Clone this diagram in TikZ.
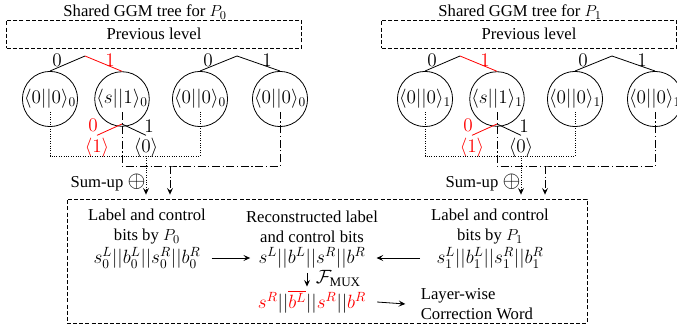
\documentclass[tikz,border=0pt]{standalone}
\usepackage{fontspec}
\setmainfont{Liberation Serif}
\usetikzlibrary{arrows.meta}
\begin{document}
\begin{tikzpicture}[x=0.75pt,y=-0.75pt,
  font=\fontsize{12.5}{15}\selectfont, line width=0.6pt,
  mfont/.style={font=\fontsize{14}{16}\selectfont},
  circ/.style={draw, circle, minimum size=37.5pt, inner sep=0pt, mfont},
  dbox/.style={draw, dash pattern=on 3pt off 1.6pt},
  dotl/.style={dash pattern=on 0.7pt off 1.1pt},
  ddl/.style={dash pattern=on 6pt off 2pt on 0.8pt off 2pt},
  arr/.style={-{Stealth[length=5pt,width=4.5pt,inset=2pt]}},
  lbl/.style={inner sep=1pt, mfont}]
\useasboundingbox (0,0) rectangle (677,328);
% bottom box
\node[dbox, minimum width=390pt, minimum height=93pt] (bbox) at (327,261) {};
\foreach \p/\dx in {0/0,1/375}{
  \node (title\p) at (\dx+145,12) {Shared GGM tree for $P_\p$};
  \node[dbox, minimum width=221.25pt, minimum height=21pt] (prev\p) at (\dx+154,34) {Previous level};
  \coordinate (apL\p) at (\dx+85,56);
  \coordinate (apR\p) at (\dx+237,56);
  \node[circ] (ca\p) at (\dx+50,99) {$\langle 0||0\rangle_\p$};
  \node[circ] (cb\p) at (\dx+122,99) {$\langle s||1\rangle_\p$};
  \node[circ] (cc\p) at (\dx+200,99) {$\langle 0||0\rangle_\p$};
  \node[circ] (cd\p) at (\dx+280,99) {$\langle 0||0\rangle_\p$};
  \draw (apL\p) -- (ca\p.north);
  \draw[red] (apL\p) -- (cb\p.north);
  \draw (apR\p) -- (cc\p.north);
  \draw (apR\p) -- (cd\p.north);
  \node[lbl] (ea\p) at (\dx+57,60) {$0$};
  \node[lbl,red] (eb\p) at (\dx+110,60) {$1$};
  \node[lbl] (ec\p) at (\dx+208,60) {$0$};
  \node[lbl] (ed\p) at (\dx+267,60) {$1$};
  % sub tree
  \coordinate (sa\p) at (\dx+122,124);
  \node[inner sep=0pt, red, mfont] (la\p) at (\dx+97,148) {$\langle 1\rangle$};
  \node[inner sep=0pt, mfont] (lb\p) at (\dx+146,148) {$\langle 0\rangle$};
  \draw[red] (sa\p) -- ([yshift=2pt]la\p.north);
  \draw (sa\p) -- ([yshift=2pt]lb\p.north);
  \node[lbl,red] (sea\p) at (\dx+93,125) {$0$};
  \node[lbl] (seb\p) at (\dx+149,126) {$1$};
  % dotted sum
  \coordinate (dotY\p) at (\dx+146,156);
  \draw[dotl] ([yshift=-9.75pt]ca\p.center) |- (dotY\p) -| ([yshift=-9.75pt]cc\p.center);
  \draw[dotl, arr] (lb\p.south) -- ([yshift=3pt]lb\p.south |- bbox.north);
  % dash-dot sum
  \coordinate (ddY\p) at (\dx+170,166);
  \draw[ddl] ([yshift=-9.75pt]cb\p.center) |- (ddY\p) -| ([yshift=-9.75pt]cd\p.center);
  \draw[ddl, arr] (ddY\p) -- ([yshift=3pt]ddY\p |- bbox.north);
  \node (sum\p) at (\dx+108,183) {Sum-up {\fontsize{17}{17}\selectfont$\oplus$}};
}
% bottom contents
\node[align=center] (lbl0) at (147,227) {Label and control\\bits by $P_0$};
\node[mfont, inner sep=2pt] (s0) at (147,258) {$s_0^L||b_0^L||s_0^R||b_0^R$};
\node[align=center] (lblr) at (312,227) {Reconstructed label\\and control bits};
\node[mfont, inner sep=2pt] (sr) at (312,258) {$s^L||b^L||s^R||b^R$};
\node[align=center] (lbl1) at (490,227) {Label and control\\bits by $P_1$};
\node[mfont, inner sep=2pt] (s1) at (490,258) {$s_1^L||b_1^L||s_1^R||b_1^R$};
\node[mfont, inner sep=2pt] (sm) at (312,302) {$\textcolor{red}{s^R}||\textcolor{red}{\overline{b^L}}||\textcolor{red}{s^R}||\textcolor{red}{b^R}$};
\node[align=left, anchor=west] (lw) at (416,304) {Layer-wise\\Correction Word};
\draw[arr] ([xshift=6pt]s0.east) -- ([xshift=-4pt]sr.west);
\draw[arr] ([xshift=-10pt]s1.west) -- ([xshift=6pt]sr.east);
\draw[arr] ([xshift=-3.75pt,yshift=-1pt]sr.south) -- ([xshift=-3.75pt,yshift=1pt]sm.north)
  node[midway, right, xshift=3pt, yshift=1pt, mfont] {$\mathcal{F}_{\mathrm{MUX}}$};
\draw[arr] ([xshift=6pt]sm.east) -- ([xshift=-8pt]lw.west);
\end{tikzpicture}
\end{document}
